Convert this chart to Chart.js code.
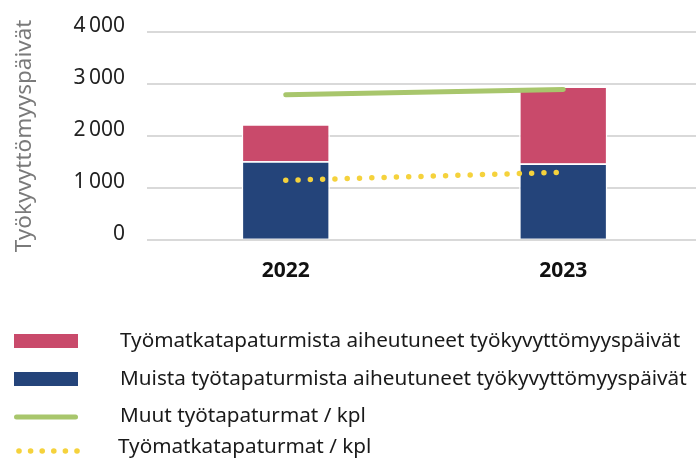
<!DOCTYPE html>
<html>
<head>
<meta charset="utf-8">
<script src="https://cdn.jsdelivr.net/npm/chart.js@4/dist/chart.umd.min.js"></script>
<style>
html, body { margin: 0; padding: 0; overflow: hidden; background: #fff; width: 696px; height: 461px; }
#wrap { position: relative; width: 702px; height: 461px; }
</style>
</head>
<body>
<div id="wrap"><canvas id="c" width="702" height="461"></canvas></div>
<script>
// ---- data ----
const categories = ['2022', '2023'];
const muistaPaivat = [1512, 1468];          // Muista työtapaturmista aiheutuneet työkyvyttömyyspäivät
const matkaPaivat = [713, 1484];            // Työmatkatapaturmista aiheutuneet työkyvyttömyyspäivät
const muutKpl = [2790, 2895];               // Muut työtapaturmat / kpl
const matkaKpl = [1145, 1300];              // Työmatkatapaturmat / kpl
const yTicks = [0, 1000, 2000, 3000, 4000];
const yTitle = 'Työkyvyttömyyspäivät';

const FONT = "'Noto Sans', 'Open Sans', sans-serif";
Chart.defaults.font.family = FONT;

const colors = { pink: '#c94a6b', blue: '#24447a', green: '#a8c66c', yellow: '#f5d23c' };

const fmt = v => String(v).replace(/\B(?=(\d{3})+(?!\d))/g, '\u202f');

// custom legend (vertical list, drawn on the canvas as text)
const legendOrder = [3, 2, 1, 0];
const customLegend = {
  id: 'customLegend',
  afterDraw(chart) {
    const ctx = chart.ctx;
    const rows = [341, 379, 416.5, 447];
    ctx.save();
    legendOrder.forEach((dsIndex, i) => {
      const ds = chart.data.datasets[dsIndex];
      const y = rows[i];
      if (ds.type === 'bar') {
        ctx.fillStyle = ds.backgroundColor;
        ctx.fillRect(14, y - 7, 64, 14);
      } else if (ds.borderDash && ds.borderDash.length) {
        ctx.fillStyle = ds.borderColor;
        for (let k = 0; k < 6; k++) {
          ctx.beginPath();
          ctx.arc(19 + k * 11.6, y + 4, 2.8, 0, Math.PI * 2);
          ctx.fill();
        }
      } else {
        ctx.strokeStyle = ds.borderColor;
        ctx.lineWidth = 5;
        ctx.lineCap = 'round';
        ctx.beginPath();
        ctx.moveTo(16.5, y + 0.5);
        ctx.lineTo(75.5, y + 0.5);
        ctx.stroke();
      }
      ctx.fillStyle = '#1a1a1a';
      ctx.font = '20.7px ' + FONT;
      ctx.textBaseline = 'middle';
      ctx.textAlign = 'left';
      ctx.fillText(ds.label, i === 3 ? 118 : 120, y);
    });
    ctx.restore();
  }
};

new Chart(document.getElementById('c'), {
  data: {
    labels: categories,
    datasets: [
      {
        type: 'line', label: 'Työmatkatapaturmat / kpl', data: matkaKpl,
        borderColor: colors.yellow, borderWidth: 5.5, borderDash: [0, 12.3], borderCapStyle: 'round',
        pointRadius: 0, order: 0, stack: 'l1'
      },
      {
        type: 'line', label: 'Muut työtapaturmat / kpl', data: muutKpl,
        borderColor: colors.green, borderWidth: 5, borderCapStyle: 'round',
        pointRadius: 0, order: 0, stack: 'l2'
      },
      {
        type: 'bar', label: 'Muista työtapaturmista aiheutuneet työkyvyttömyyspäivät', data: muistaPaivat,
        backgroundColor: colors.blue, borderColor: '#ffffff', borderWidth: 1.5,
        barPercentage: 0.318, categoryPercentage: 1, order: 1, stack: 'bars'
      },
      {
        type: 'bar', label: 'Työmatkatapaturmista aiheutuneet työkyvyttömyyspäivät', data: matkaPaivat,
        backgroundColor: colors.pink, borderColor: '#ffffff', borderWidth: 1.5,
        barPercentage: 0.318, categoryPercentage: 1, order: 1, stack: 'bars'
      }
    ]
  },
  options: {
    responsive: false,
    animation: false,
    layout: { padding: { top: 32, right: 0, bottom: 158, left: 0 } },
    plugins: { legend: { display: false }, tooltip: { enabled: false } },
    scales: {
      x: {
        stacked: true,
        grid: { display: false, drawTicks: false },
        border: { display: false },
        ticks: { padding: 19, color: '#111', font: { size: 21, weight: 'bold' } }
      },
      y: {
        stacked: true,
        min: 0, max: 4000,
        afterBuildTicks(scale) { scale.ticks = yTicks.map(v => ({ value: v })); },
        afterFit(scale) { scale.width = 147; scale.paddingTop = 0; scale.paddingBottom = 0; },
        grid: { color: '#d9d9d9', lineWidth: 2, drawTicks: false },
        border: { display: false },
        ticks: {
          padding: 22, labelOffset: -6, color: '#222',
          font: { size: 21 },
          callback: v => fmt(v)
        },
        title: {
          display: true, text: yTitle, color: '#7a7a7a',
          font: { size: 22.5 }, padding: { top: 11, bottom: 0 }
        }
      }
    }
  },
  plugins: [customLegend]
});
</script>
</body>
</html>
